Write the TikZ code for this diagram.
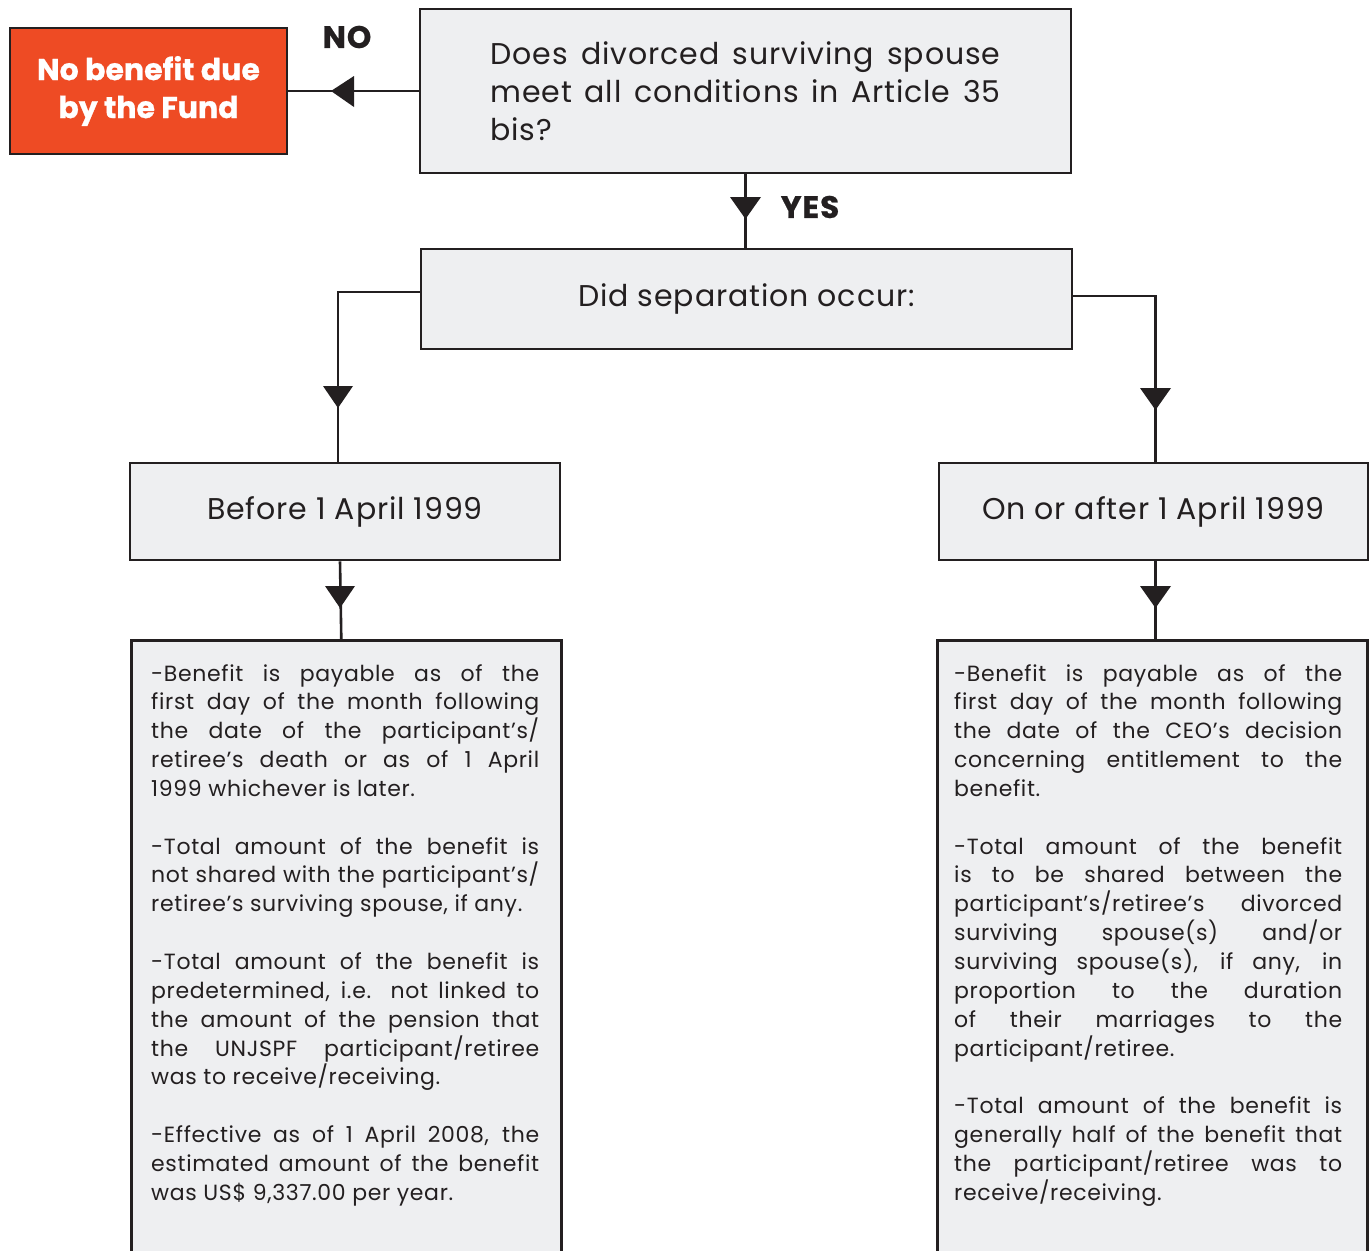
\documentclass[tikz,border=0pt]{standalone}
\usepackage{fontspec}
\setmainfont{Poppins}[LetterSpace=3]
\newfontfamily\heavyfont{Poppins}[BoldFeatures={FakeBold=0.8}]
\newfontfamily\labelfont{Poppins}[LetterSpace=3,BoldFeatures={FakeBold=0.8}]
\definecolor{lc}{HTML}{231F20}
\definecolor{boxgray}{HTML}{EEEFF1}
\definecolor{redfill}{HTML}{EE4B24}
\newcommand\jline[2]{\makebox[#1][s]{#2}}
\tikzset{
  box/.style={draw=lc, line width=2.6pt, fill=boxgray, inner sep=0pt, text=lc},
  redbox/.style={draw=lc, line width=2.6pt, fill=redfill, inner sep=0pt, text=white,
    font=\heavyfont\fontsize{30}{38}\selectfont\bfseries, align=center},
  conn/.style={draw=lc, line width=2.6pt},
  tri/.style={fill=lc},
  lbl/.style={text=lc, font=\labelfont\fontsize{31}{34}\selectfont\bfseries, inner sep=0pt},
  bigtxt/.style={font=\fontsize{30}{38}\selectfont},
  dtxt/.style={text=lc, inner sep=0pt, align=left, font=\fontsize{22}{28.85}\selectfont},
}
\begin{document}
\begin{tikzpicture}[x=1pt,y=-1pt]
\clip (0,0) rectangle (1369,1251);
\fill[white] (0,0) rectangle (1369,1251);

% nodes
\node[redbox, minimum width=277, minimum height=126] (nob) at (148.5,91)
  {No benefit due\\by the Fund};
\node[box, bigtxt, minimum width=651, minimum height=164, align=left] (q) at (745.5,91)
  {\jline{510pt}{Does divorced surviving spouse}\\
   \jline{510pt}{meet all conditions in Article 35}\\
   bis?\hfill\mbox{}};
\node[box, bigtxt, minimum width=651, minimum height=100] (sep) at (746.5,299)
  {Did separation occur:};
\node[box, bigtxt, minimum width=430, minimum height=97] (before) at (345,511.5)
  {Before 1 April 1999};
\node[box, bigtxt, minimum width=429, minimum height=97] (after) at (1153.5,511.5)
  {On or after 1 April 1999};
\node[box, minimum width=430, minimum height=700, anchor=north west] (detL) at (130,639) {};
\node[box, minimum width=430, minimum height=700, anchor=north west] (detR) at (936,639) {};

\node[dtxt, anchor=north west] (txtL) at (151,664) {%
\jline{388pt}{-Benefit is payable as of the}\\
\jline{388pt}{first day of the month following}\\
\jline{388pt}{the date of the participant’s/}\\
\jline{388pt}{retiree’s death or as of 1 April}\\
1999 whichever is later.\\
\mbox{}\\
\jline{388pt}{-Total amount of the benefit is}\\
\jline{388pt}{not shared with the participant’s/}\\
retiree’s surviving spouse, if any.\\
\mbox{}\\
\jline{388pt}{-Total amount of the benefit is}\\
\jline{388pt}{predetermined, i.e. not linked to}\\
\jline{388pt}{the amount of the pension that}\\
\jline{388pt}{the UNJSPF participant/retiree}\\
was to receive/receiving.\\
\mbox{}\\
\jline{388pt}{-Effective as of 1 April 2008, the}\\
\jline{388pt}{estimated amount of the benefit}\\
was US\$ 9,337.00 per year.};

\node[dtxt, anchor=north west] (txtR) at (954,664) {%
\jline{388pt}{-Benefit is payable as of the}\\
\jline{388pt}{first day of the month following}\\
\jline{388pt}{the date of the CEO’s decision}\\
\jline{388pt}{concerning entitlement to the}\\
benefit.\\
\mbox{}\\
\jline{388pt}{-Total amount of the benefit}\\
\jline{388pt}{is to be shared between the}\\
\jline{388pt}{participant’s/retiree’s divorced}\\
\jline{388pt}{surviving spouse(s) and/or}\\
\jline{388pt}{surviving spouse(s), if any, in}\\
\jline{388pt}{proportion to the duration}\\
\jline{388pt}{of their marriages to the}\\
participant/retiree.\\
\mbox{}\\
\jline{388pt}{-Total amount of the benefit is}\\
\jline{388pt}{generally half of the benefit that}\\
\jline{388pt}{the participant/retiree was to}\\
receive/receiving.};

\node[lbl] (no) at (347,37) {NO};
\node[lbl] (yes) at (810,207) {YES};

% connectors
\draw[conn] (q.west) -- (nob.east);
\draw[conn] (q.south) -- (q.south |- sep.north);
\draw[conn] ([yshift=7pt]sep.west) -| ([xshift=-7pt]before.north);
\draw[conn] ([yshift=3pt]sep.east) -| ([xshift=2pt]after.north);
\draw[conn] ([xshift=-5pt]before.south) -- ([xshift=-5pt]detL.north);
\draw[conn] ([xshift=2pt]after.south) -- ([xshift=2pt]after.south |- detR.north);

% arrowheads
\fill[tri] (331,91) -- (354,76) -- (354,107) -- cycle;
\fill[tri] (745.5,219) -- (730,197) -- (761,197) -- cycle;
\fill[tri] (338,408) -- (323,386) -- (353,386) -- cycle;
\fill[tri] (1155.5,410) -- (1140,388) -- (1171,388) -- cycle;
\fill[tri] (340,608) -- (325,586) -- (355,586) -- cycle;
\fill[tri] (1155.5,608) -- (1140,586) -- (1171,586) -- cycle;
\end{tikzpicture}
\end{document}
